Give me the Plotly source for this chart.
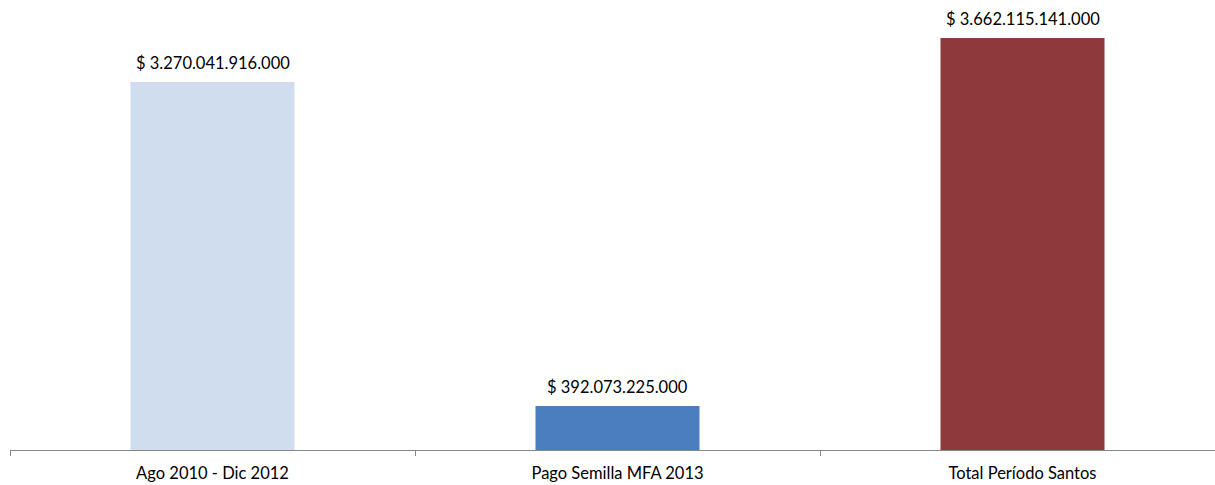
import plotly.graph_objects as go

categories = ["Ago 2010 - Dic 2012", "Pago Semilla MFA 2013", "Total Período Santos"]
values = [3270041916000, 392073225000, 3662115141000]
colors = ["#CFDDEE", "#4A7EBF", "#8E3A3A"]


def fmt(v):
    return "$ " + f"{v:,.0f}".replace(",", ".")


fig = go.Figure()
fig.add_trace(go.Bar(
    x=categories, y=values,
    marker=dict(color=colors, line=dict(width=0)),
    width=0.405,
))
for c, v in zip(categories, values):
    fig.add_annotation(
        x=c, y=v, text=fmt(v), showarrow=False,
        yanchor="middle", yshift=19,
        font=dict(family="Lato", size=16.5, color="#000000"),
    )
fig.update_layout(
    width=1215, height=485,
    margin=dict(l=10, r=0, t=0, b=35),
    paper_bgcolor="white", plot_bgcolor="white",
    showlegend=False,
    font=dict(family="Lato", size=15, color="#000000"),
)
fig.update_xaxes(
    range=[-0.5, 2.5 - 10/405], tickson="boundaries",
    showline=True, linecolor="#868686", linewidth=1,
    ticks="outside", ticklen=5, tickcolor="#868686",
    ticklabelstandoff=8,
    showgrid=False, tickfont=dict(family="Lato", size=16.5, color="#000000"),
)
fig.update_yaxes(range=[0, 4.0e12], visible=False, showgrid=False)
fig.write_html("out.html")
